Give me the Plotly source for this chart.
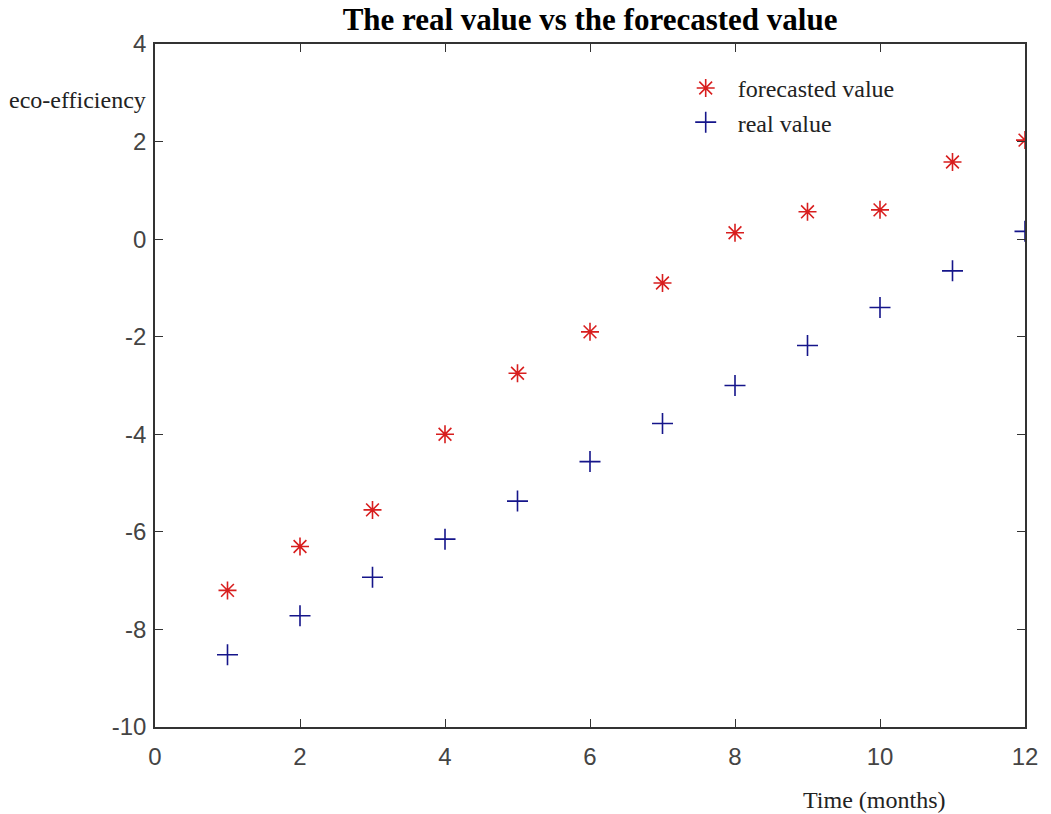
import plotly.graph_objects as go

months = list(range(1, 13))
forecasted = [-7.2, -6.3, -5.55, -4.0, -2.75, -1.9, -0.9, 0.13, 0.56, 0.6, 1.58, 2.03]
real = [-8.52, -7.72, -6.93, -6.15, -5.37, -4.56, -3.78, -3.0, -2.18, -1.4, -0.65, 0.16]

x_ticks = [0, 2, 4, 6, 8, 10, 12]
y_ticks = [-10, -8, -6, -4, -2, 0, 2, 4]
y_ticktext = [str(v) for v in y_ticks]

serif = "Liberation Serif, Times New Roman, serif"
sans = "Liberation Sans, Arial, sans-serif"

fig = go.Figure()
fig.add_trace(go.Scatter(
    x=months, y=forecasted, mode="markers", name="  forecasted value",
    marker=dict(symbol="asterisk-open", size=15, color="#d81e1e",
                line=dict(color="#d81e1e", width=1.6)),
))
fig.add_trace(go.Scatter(
    x=months, y=real, mode="markers", name="  real value",
    marker=dict(symbol="cross-thin-open", size=15, color="#15158a",
                line=dict(color="#15158a", width=1.6)),
))

axis_common = dict(
    showgrid=False, zeroline=False, showline=True, linecolor="#333",
    linewidth=1.5, mirror="ticks", ticks="inside", ticklen=8,
    tickcolor="#333", tickwidth=1.2,
    tickfont=dict(family=sans, size=24, color="#444"),
)

fig.update_layout(
    width=1051, height=814,
    margin=dict(l=155, r=26, t=44, b=87),
    paper_bgcolor="white", plot_bgcolor="white",
    title=dict(text="<b>The real value vs the forecasted value</b>",
               x=0.5614, xanchor="center", y=0.976, yanchor="middle",
               font=dict(family=serif, size=31, color="black")),
    xaxis=dict(range=[0, 12], tickvals=x_ticks, ticklabelstandoff=7, **axis_common),
    yaxis=dict(range=[-10, 4], tickvals=y_ticks, ticktext=y_ticktext,
               ticklabelstandoff=2, **axis_common),
    legend=dict(x=0.610, y=0.968, xanchor="left", yanchor="top",
                bgcolor="rgba(0,0,0,0)", borderwidth=0,
                font=dict(family=serif, size=24, color="#222"),
                tracegroupgap=0, itemwidth=30),
    showlegend=True,
)

fig.add_annotation(text="eco-efficiency", xref="paper", yref="paper",
                   x=-0.008, y=0.918, xanchor="right", yanchor="middle",
                   showarrow=False, font=dict(family=serif, size=24, color="#222"))
fig.add_annotation(text="Time (months)", xref="paper", yref="paper",
                   x=0.826, y=-0.107, xanchor="center", yanchor="middle",
                   showarrow=False, font=dict(family=serif, size=24, color="#222"))

fig.write_html("out.html")
